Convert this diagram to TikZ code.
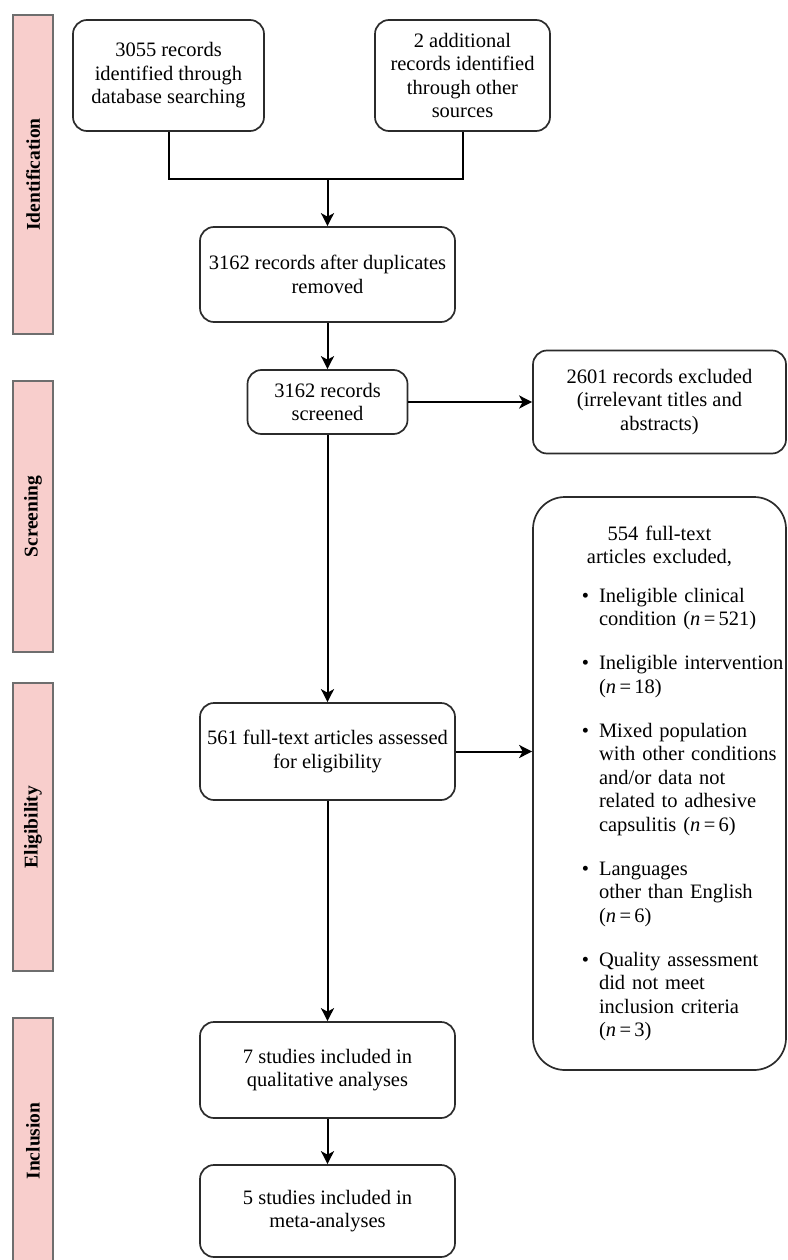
\documentclass[tikz,border=0pt]{standalone}
\usepackage{fontspec}
\setmainfont{Liberation Serif}
\usepackage{enumitem}
\usetikzlibrary{arrows.meta}
\definecolor{barpink}{HTML}{F8CECC}
\definecolor{bargray}{HTML}{6E6E6E}
\definecolor{boxline}{HTML}{2B2B2B}

\begin{document}
\begin{tikzpicture}[x=1pt,y=-1pt,
  font=\fontsize{20.5}{23.5}\selectfont,
  box/.style={draw=boxline,line width=1.7pt,rounded corners=14pt,align=center,inner sep=0pt,minimum width=255pt},
  stage/.style={draw=bargray,line width=1.8pt,fill=barpink,rotate=90,minimum height=40pt,inner sep=0pt,font=\fontsize{19.5}{22}\selectfont\bfseries},
  link/.style={line width=2pt,draw=black},
  flow/.style={link,-{Stealth[length=13pt,width=13pt,inset=3.5pt]}}]

\useasboundingbox (0,0) rectangle (787,1260);

\node (Sid) at (33,174.5)[stage,minimum width=319pt] {Identification};
\node (Ssc) at (33,516.5)[stage,minimum width=271pt] {Screening};
\node (Sel) at (33,827)[stage,minimum width=288pt] {Eligibility};
\node (Sin) at (33,1141)[stage,minimum width=246pt] {Inclusion};

\node (A) at (168.5,75.5)[box,minimum width=191pt,minimum height=111pt] {3055 records\\identified through\\database searching};
\node (B) at (462.5,75.5)[box,minimum width=175pt,minimum height=111pt] {2 additional\\records identified\\through other\\sources};
\coordinate (join) at (327.5,179);
\node (C) at (327.5,274.5)[box,minimum height=95pt] {3162 records after duplicates\\removed};
\node (D) at (327.5,402)[box,minimum width=160pt,minimum height=64pt] {3162 records\\screened};
\node (E) at (659.5,402)[box,minimum width=253pt,minimum height=103pt] {2601 records excluded\\(irrelevant titles and\\abstracts)};
\node (G) at (327.5,751.5)[box,minimum height=97pt] {561 full-text articles assessed\\for eligibility};
\node (H) at (327.5,1070)[box,minimum height=96pt] {7 studies included in\\qualitative analyses};
\node (I) at (327.5,1211)[box,minimum height=92pt] {5 studies included in\\meta-analyses};

\node (F) at (659.5,783.5)[box,rounded corners=32pt,minimum width=253pt,minimum height=573pt,text width=253pt,align=left] {%
{\centering 554 full-text\\articles excluded,\par}
\vspace{15pt}
\begin{itemize}[leftmargin=66pt,rightmargin=-40pt,labelsep=10pt,itemsep=20.5pt,parsep=0pt,topsep=0pt,partopsep=0pt,label=\textbullet]
\item Ineligible clinical\\condition (\textit{n}\,=\,521)
\item Ineligible intervention\\(\textit{n}\,=\,18)
\item Mixed population\\with other conditions\\and/or data not\\related to adhesive\\capsulitis (\textit{n}\,=\,6)
\item Languages\\other than English\\(\textit{n}\,=\,6)
\item Quality assessment\\did not meet\\inclusion criteria\\(\textit{n}\,=\,3)
\end{itemize}
\vspace*{34pt}};

\draw [link] (A.south) |- (join) -| (B.south);
\draw [flow] (join) -- (C);
\draw [flow] (C) -- (D);
\draw [flow] (D) -- (E);
\draw [flow] (D) -- (G);
\draw [flow] (G.east) -- (G.east -| F.west);
\draw [flow] (G) -- (H);
\draw [flow] (H) -- (I);
\end{tikzpicture}
\end{document}
